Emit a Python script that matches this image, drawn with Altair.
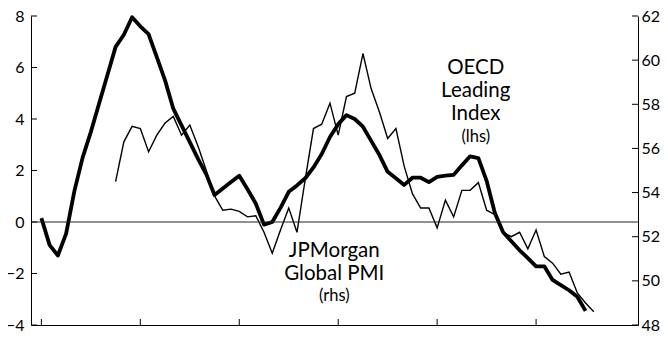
import altair as alt
import pandas as pd

# OECD leading index, monthly from Jan 2003 (left axis)
oecd_values = [
    0.15, -0.9, -1.3, -0.45, 1.2, 2.5, 3.5, 4.6, 5.7, 6.8, 7.27, 7.95,
    7.6, 7.3, 6.4, 5.5, 4.4, 3.75, 3.1, 2.45, 1.85, 1.05, 1.3, 1.55,
    1.8, 1.27, 0.72, -0.1, 0.0, 0.55, 1.17, 1.42, 1.7, 2.12, 2.64, 3.3,
    3.8, 4.15, 4.0, 3.7, 3.15, 2.6, 1.95, 1.7, 1.44, 1.72, 1.72, 1.55,
    1.75, 1.8, 1.83, 2.2, 2.55, 2.48, 1.6, 0.35, -0.4, -0.75, -1.1, -1.4,
    -1.72, -1.72, -2.25, -2.45, -2.65, -2.9, -3.45,
]
oecd_start = 2003.0

# JPMorgan Global PMI, monthly from Oct 2003 (right axis)
pmi_values = [
    54.5, 56.3, 57.0,
    56.9, 55.85, 56.6, 57.15, 57.45, 56.6, 57.06, 56.1, 55.0, 53.85, 53.2, 53.25,
    53.15, 52.9, 52.95, 52.2, 51.25, 52.3, 53.3, 52.2, 54.6, 56.9, 57.1, 58.05,
    56.6, 58.35, 58.5, 60.3, 58.7, 57.65, 56.45, 56.9, 55.2, 53.95, 53.3, 53.3,
    52.4, 53.66, 52.9, 54.1, 54.1, 54.45, 53.2, 53.0, 52.2, 52.0, 52.2, 51.45,
    52.3, 51.1, 50.8, 50.3, 50.4, 49.45, 49.0, 48.6,
]
pmi_start = 2003.0 + 9 / 12

left_ticks = [-4, -2, 0, 2, 4, 6, 8]
right_ticks = [48, 50, 52, 54, 56, 58, 60, 62]
year_ticks = [2003, 2004, 2005, 2006, 2007, 2008]

oecd_label = ["OECD", "Leading", "Index", "(lhs)"]
pmi_label = ["JPMorgan", "Global PMI", "(rhs)"]

W, H = 607, 309
FONT = "Lato"

oecd_df = pd.DataFrame({"t": [oecd_start + i / 12 for i in range(len(oecd_values))], "v": oecd_values})
pmi_df = pd.DataFrame({"t": [pmi_start + i / 12 for i in range(len(pmi_values))], "p": pmi_values})

xs = alt.Scale(domain=[2002.895, 2009.03], nice=False, zero=False)
yl = alt.Scale(domain=[-4, 8], nice=False, zero=False)
yr = alt.Scale(domain=[48, 62], nice=False, zero=False)

x_axis = alt.Axis(values=year_ticks, labelExpr="'0' + (datum.value - 2000)", ticks=False,
                  domain=True, domainColor="black", grid=False, title=None,
                  labelFont=FONT, labelFontSize=16, labelColor="black", labelPadding=11)
yl_axis = alt.Axis(values=left_ticks, ticks=False, domain=True, domainColor="black",
                   grid=False, title=None, labelFont=FONT, labelFontSize=16, labelColor="black",
                   labelPadding=7, orient="left")
yr_axis = alt.Axis(values=right_ticks, ticks=False, domain=True, domainColor="black",
                   grid=False, title=None, labelFont=FONT, labelFontSize=16, labelColor="black",
                   labelPadding=3, orient="right")


def X():
    return alt.X("t:Q", scale=xs, axis=x_axis)


oecd_line = alt.Chart(oecd_df).mark_line(color="black", strokeWidth=3.8, strokeJoin="round").encode(
    x=X(), y=alt.Y("v:Q", scale=yl, axis=yl_axis))

pmi_line = alt.Chart(pmi_df).mark_line(color="black", strokeWidth=1.4, strokeJoin="miter").encode(
    x=X(), y=alt.Y("p:Q", scale=yr, axis=yr_axis))

zero_line = alt.Chart(pd.DataFrame({"v": [0]})).mark_rule(color="#222", strokeWidth=1).encode(
    y=alt.Y("v:Q", scale=yl, axis=None))

lt = alt.Chart(pd.DataFrame({"v": left_ticks})).mark_rule(color="black", strokeWidth=1).encode(
    y=alt.Y("v:Q", scale=yl, axis=None), x=alt.value(0), x2=alt.value(6))
rt = alt.Chart(pd.DataFrame({"p": right_ticks})).mark_rule(color="black", strokeWidth=1).encode(
    y=alt.Y("p:Q", scale=yr, axis=None), x=alt.value(W - 6), x2=alt.value(W))
xt = alt.Chart(pd.DataFrame({"t": year_ticks})).mark_rule(color="black", strokeWidth=1).encode(
    x=X(), y=alt.value(H - 6), y2=alt.value(H))


def label_lines(lines, xval, yvals, sizes):
    out = []
    for txt, yv, fs in zip(lines, yvals, sizes):
        out.append(alt.Chart(pd.DataFrame({"s": [txt], "t": [xval], "y": [yv]})).mark_text(
            font=FONT, fontSize=fs, align="center", baseline="alphabetic", color="black").encode(
            x=X(), y=alt.Y("y:Q", scale=yl, axis=None), text="s:N"))
    return out


oecd_txt = label_lines(oecd_label, 2007.39, [5.75, 4.85, 3.96, 3.11], [20.5, 20.5, 20.5, 16.5])
pmi_txt = label_lines(pmi_label, 2005.96, [-1.36, -2.25, -3.07], [20.5, 20.5, 16.5])

chart = alt.layer(oecd_line, pmi_line, zero_line, lt, rt, xt, *oecd_txt, *pmi_txt).resolve_scale(
    y="independent").properties(
    width=W, height=H,
    autosize=alt.AutoSizeParams(type="none"),
    padding={"left": 23, "top": 8, "right": 22, "bottom": 14},
).configure_view(stroke=None)

chart.save("out.html", embed_options={"renderer": "svg", "actions": False})
